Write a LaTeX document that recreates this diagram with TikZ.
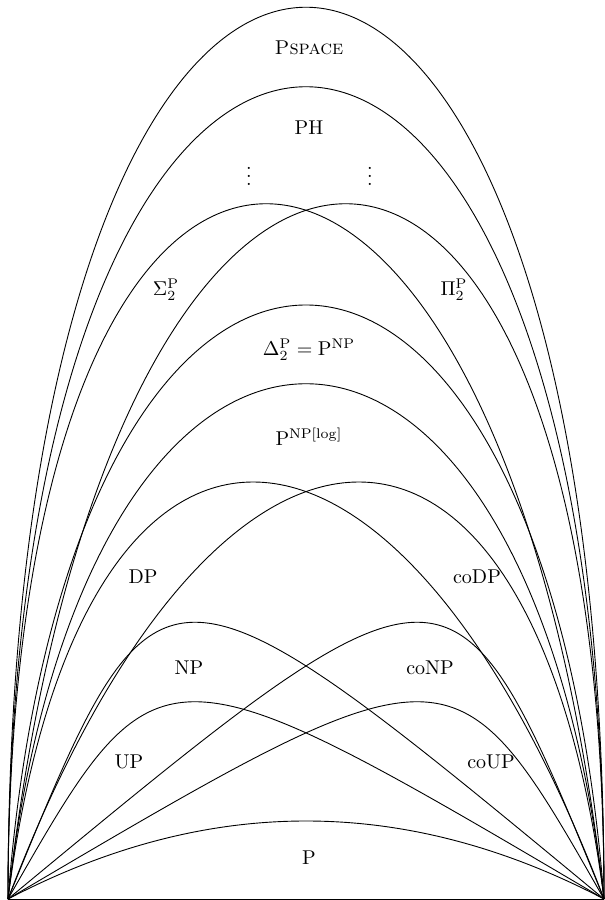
\documentclass[tikz,border=0pt]{standalone}
\usepackage{amsmath}
\usepackage{tikz}
\usetikzlibrary{positioning, calc}

\begin{document}
\begin{tikzpicture}[
    x=0.5pt, y=0.5pt,
    bound/.style={draw, line width=0.45pt},
    cls/.style={font=\normalsize, align=center, inner sep=1pt},
]
\useasboundingbox (-8,-1) rectangle (597,899);
\coordinate (L) at (0,0);
\coordinate (R) at (596,0);

\draw[bound] (L) -- (R);
\draw[bound] (L) .. controls +(0,1189) and +(0,1189) .. (R);
\draw[bound] (L) .. controls +(0,1083) and +(0,1083) .. (R);
\draw[bound] (L) .. controls +(0,927) and +(-106,927) .. (R);
\draw[bound] (L) .. controls +(106,927) and +(0,927) .. (R);
\draw[bound] (L) .. controls +(62,792) and +(-62,792) .. (R);
\draw[bound] (L) .. controls +(78,687) and +(-78,687) .. (R);
\draw[bound] (L) .. controls +(71,556) and +(-212,556) .. (R);
\draw[bound] (L) .. controls +(212,556) and +(-71,556) .. (R);
\draw[bound] (L) .. controls +(150,369) and +(-446,369) .. (R);
\draw[bound] (L) .. controls +(446,369) and +(-150,369) .. (R);
\draw[bound] (L) .. controls +(150,263) and +(-446,263) .. (R);
\draw[bound] (L) .. controls +(446,263) and +(-150,263) .. (R);
\draw[bound] (L) .. controls +(199,104) and +(-199,104) .. (R);

\node[cls] (pspace) at (301,851) {\textsc{Pspace}};
\node[cls] (ph)     at (301,771) {PH};
\node[cls] (dotsl)  at (241,729) {$\vdots$};
\node[cls] (dotsr)  at (362,729) {$\vdots$};
\node[cls] (sigma)  at (158,609) {$\Sigma_2^{\mathrm{P}}$};
\node[cls] (pi)     at (446,609) {$\Pi_2^{\mathrm{P}}$};
\node[cls] (delta)  at (301,549) {$\Delta_2^{\mathrm{P}} = \mathrm{P}^{\mathrm{NP}}$};
\node[cls] (plog)   at (301,462) {$\mathrm{P}^{\mathrm{NP}[\log]}$};
\node[cls] (dp)     at (135,322) {DP};
\node[cls] (codp)   at (469,322) {coDP};
\node[cls] (np)     at (181,231) {NP};
\node[cls] (conp)   at (422,231) {coNP};
\node[cls] (up)     at (121,137) {UP};
\node[cls] (coup)   at (483,137) {coUP};
\node[cls] (p)      at (301,41)  {P};
\end{tikzpicture}
\end{document}
